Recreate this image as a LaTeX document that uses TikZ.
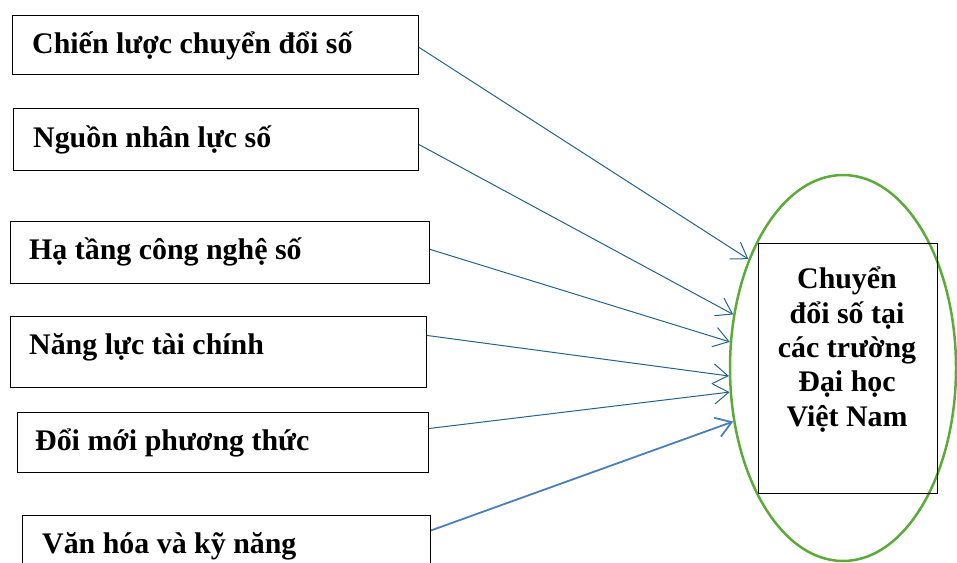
\documentclass[tikz,border=0pt]{standalone}
\usepackage{fontspec}
\setmainfont{Liberation Serif}
\usetikzlibrary{shapes.geometric,arrows.meta,calc}
\definecolor{linkblue}{RGB}{35,99,143}
\definecolor{lightlink}{RGB}{74,126,190}
\definecolor{ringgreen}{RGB}{92,170,55}
\begin{document}
\begin{tikzpicture}[x=1pt,y=-1pt,
  factor/.style={draw=black, line width=1.1pt, rectangle, inner sep=0pt, anchor=north west},
  lbl/.style={font=\bfseries\fontsize{29.9}{34.3}\selectfont, inner sep=0pt, anchor=base west},
  conn/.style={draw=linkblue, line width=1pt, -{Straight Barb[length=15pt,width=20pt]}},
  connlight/.style={conn, draw=lightlink, line width=1.8pt},
]
\useasboundingbox (0,0) rectangle (957,562);
\clip (0,0) rectangle (957,562);

% factor boxes
\node[factor, minimum width=406pt, minimum height=59pt] (b1) at (12,15) {};
\node[factor, minimum width=405pt, minimum height=62pt] (b2) at (13,108) {};
\node[factor, minimum width=419pt, minimum height=62pt] (b3) at (10,221) {};
\node[factor, minimum width=416pt, minimum height=71pt] (b4) at (10,316) {};
\node[factor, minimum width=411pt, minimum height=60pt] (b5) at (17,412) {};
\node[factor, minimum width=408pt, minimum height=80pt] (b6) at (22,515) {};

% factor labels
\node[lbl] (t1) at (32,53) {Chiến lược chuyển đổi số};
\node[lbl] (t2) at (33,147) {Nguồn nhân lực số};
\node[lbl] (t3) at (29,259) {Hạ tầng công nghệ số};
\node[lbl] (t4) at (29,354) {Năng lực tài chính};
\node[lbl] (t5) at (35,450) {Đổi mới phương thức};
\node[lbl] (t6) at (42,553) {Văn hóa và kỹ năng};

% target: ellipse with inner box
\node[draw=ringgreen, line width=2.5pt, ellipse, minimum width=226pt, minimum height=386pt, inner sep=0pt] (e) at (843,368) {};
\node[draw=black, line width=0.9pt, minimum width=179pt, minimum height=250pt, inner sep=0pt, anchor=north west] (r) at (758,243) {};
\node[font=\bfseries\fontsize{29.9}{34.3}\selectfont, align=center, inner sep=0pt, anchor=base] (rt) at (847,426)
  {Chuyển\\đổi số tại\\các trường\\Đại học\\Việt Nam};

% connectors
\draw[conn] ($(b1.north east)!0.54!(b1.south east)$) -- (e.131);
\draw[conn] ($(b2.north east)!0.58!(b2.south east)$) -- (e.154);
\draw[conn] ($(b3.north east)!0.45!(b3.south east)$) -- (e.167.6);
\draw[conn] ($(b4.north east)!0.27!(b4.south east)$) -- (e.184.5);
\draw[conn] ($(b5.north east)!0.27!(b5.south east)$) -- (e.192);
\draw[connlight] ($(b6.north east)!0.19!(b6.south east)$) -- (e.206.6);
\end{tikzpicture}
\end{document}
